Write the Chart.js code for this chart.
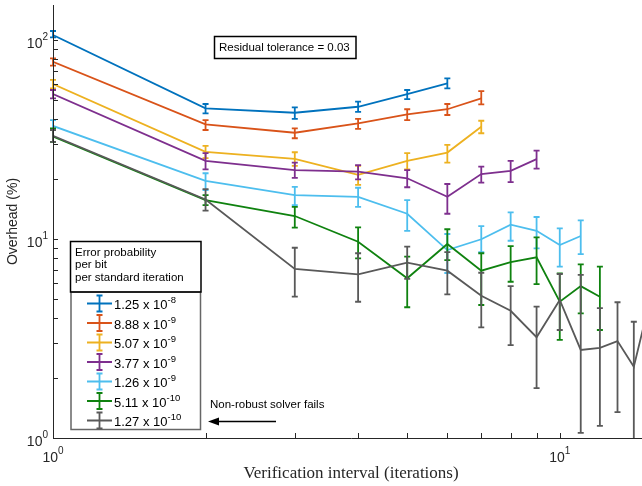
<!DOCTYPE html>
<html>
<head>
<meta charset="utf-8">
<script src="https://cdn.jsdelivr.net/npm/chart.js@4.4.1/dist/chart.umd.min.js"></script>
<style>
  html, body { margin: 0; padding: 0; background: #fff; overflow: hidden; }
  #wrap { width: 650px; height: 486px; }
</style>
</head>
<body>
<div id="wrap"><canvas id="chart" width="650" height="486"></canvas></div>
<script>
// Verification interval (iterations)
const intervals = [1, 2, 3, 4, 5, 6, 7, 8, 9, 10, 11, 12, 13, 14, 15];

// Legend: error probability per bit per standard iteration
const probMantissa = ["1.25", "8.88", "5.07", "3.77", "1.26", "5.11", "1.27"];
const probExponent = ["-8", "-9", "-9", "-9", "-9", "-10", "-10"];
const seriesColors = ["#0072BD", "#D95319", "#EDB120", "#7E2F8E", "#4DBEEE", "#0F820F", "#595959"];

// Overhead (%) and the low / high ends of each error bar
const mean_125e8 = [106, 45.4, 43.1, 46.2, 53.5, 60.6];
const low_125e8  = [103.2, 42.8, 40.2, 43.5, 50.5, 57.2];
const high_125e8 = [111.0, 47.7, 45.9, 49.0, 56.1, 64.2];

const mean_888e9 = [77.8, 37.7, 34.2, 38.1, 42.3, 44.9, 50.9];
const low_888e9  = [74.3, 35.3, 32.1, 35.8, 39.6, 42.0, 47.5];
const high_888e9 = [80.9, 39.6, 36.0, 40.2, 44.9, 47.7, 55.4];

const mean_507e9 = [60.1, 27.4, 25.3, 21.0, 24.7, 27.2, 36.7];
const low_507e9  = [57.2, 25.5, 23.3, 18.7, 22.4, 24.2, 34.0];
const high_507e9 = [63.0, 29.4, 27.3, 23.3, 27.0, 29.7, 39.3];

const mean_377e9 = [53.5, 24.7, 22.2, 21.8, 20.2, 16.3, 21.2, 22.0, 25.2];
const low_377e9  = [50.9, 22.4, 20.3, 19.95, 18.2, 13.4, 19.2, 19.3, 22.6];
const high_377e9 = [56.1, 27.0, 24.2, 23.5, 22.2, 18.9, 23.1, 24.7, 27.8];

const mean_126e9 = [37.0, 19.6, 16.6, 16.3, 13.4, 8.8, 9.97, 11.8, 11.0, 9.33, 10.35];
const low_126e9  = [35.3, 17.6, 14.8, 14.5, 11.0, 6.75, 8.6, 9.8, 8.98, 7.26, 8.4];
const high_126e9 = [39.6, 21.4, 18.3, 18.1, 15.7, 10.6, 11.6, 13.6, 12.9, 11.3, 12.4];

const mean_511e10 = [32.7, 15.7, 13.05, 9.69, 6.35, 9.44, 6.93, 7.66, 8.09, 4.84, 5.8, 5.13];
const low_511e10  = [30.8, 14.8, 11.4, 8.0, 4.54, 7.84, 4.66, 6.1, 5.94, 3.11, 4.23, 3.49];
const high_511e10 = [36.0, 16.6, 14.5, 11.45, 8.15, 11.2, 8.48, 9.22, 10.2, 6.72, 7.46, 7.26];

const mean_127e10 = [33.0, 15.8, 7.07, 6.65, 7.6, 6.93, 5.19, 4.36, 3.21, 4.94, 2.77, 2.84, 3.07, 2.28, 4.7];
const low_127e10  = [30.8, 13.9, 5.13, 4.84, 6.3, 5.27, 3.6, 2.93, 1.78, 3.49, 1.06, 1.15, 1.35, 0.9, 3.5];
const high_127e10 = [35.3, 17.8, 9.04, 8.48, 9.15, 8.6, 6.77, 5.8, 4.57, 6.67, 6.6, 4.49, 4.81, 3.84, 6.0];

// axis tick labels (powers of ten)
const xTickValues = [1, 10];
const yTickValues = [1, 10, 100];

const series = [
    [mean_125e8, low_125e8, high_125e8],
    [mean_888e9, low_888e9, high_888e9],
    [mean_507e9, low_507e9, high_507e9],
    [mean_377e9, low_377e9, high_377e9],
    [mean_126e9, low_126e9, high_126e9],
    [mean_511e10, low_511e10, high_511e10],
    [mean_127e10, low_127e10, high_127e10]
];

const SANS = '"Liberation Sans", Arial, sans-serif';
const AXIS_COLOR = "#262626";

const datasets = series.map((s, i) => ({
    label: probMantissa[i] + " x 10^" + probExponent[i],
    data: s[0].map((v, j) => ({ x: intervals[j], y: v })),
    errLow: s[1],
    errHigh: s[2],
    borderColor: seriesColors[i],
    backgroundColor: seriesColors[i],
    borderWidth: 1.8,
    pointRadius: 0,
    tension: 0,
    order: series.length - 1 - i
}));

// error bars, drawn right after each line so the layering follows the lines
const errorBars = {
    id: "errorBars",
    afterDatasetDraw(chart, args) {
        const ds = chart.data.datasets[args.index];
        const y = chart.scales.y;
        const ctx = chart.ctx;
        const a = chart.chartArea;
        ctx.save();
        ctx.beginPath();
        ctx.rect(a.left - 10, a.top, a.right - a.left + 20, a.bottom - a.top);
        ctx.clip();
        ctx.strokeStyle = ds.borderColor;
        ctx.lineWidth = ds.borderWidth;
        args.meta.data.forEach((pt, j) => {
            const top = y.getPixelForValue(ds.errHigh[j]);
            const bot = y.getPixelForValue(ds.errLow[j]);
            ctx.beginPath();
            ctx.moveTo(pt.x, top); ctx.lineTo(pt.x, bot);
            ctx.moveTo(pt.x - 3, top); ctx.lineTo(pt.x + 3, top);
            ctx.moveTo(pt.x - 3, bot); ctx.lineTo(pt.x + 3, bot);
            ctx.stroke();
        });
        ctx.restore();
    }
};

function logTicks(min, max) {
    const out = [];
    for (let d = Math.floor(Math.log10(min)); d <= Math.ceil(Math.log10(max)); d++) {
        for (let m = 1; m <= 9; m++) {
            const v = m * Math.pow(10, d);
            if (v >= min - 1e-9 && v <= max + 1e-9) out.push(v);
        }
    }
    return out;
}

function powerLabel(ctx, v, x, baseY, align) {
    const base = "10";
    const sup = String(Math.round(Math.log10(v)));
    ctx.font = "14px " + SANS;
    const wb = ctx.measureText(base).width;
    ctx.font = "10px " + SANS;
    const ws = ctx.measureText(sup).width;
    const w = wb + ws;
    const left = align === "right" ? x - w : x - w / 2;
    ctx.textAlign = "left";
    ctx.textBaseline = "alphabetic";
    ctx.font = "14px " + SANS;
    ctx.fillText(base, left, baseY);
    ctx.font = "10px " + SANS;
    ctx.fillText(sup, left + wb, baseY - 8);
}

// MATLAB style axes, inward ticks, legend and annotations
const decorations = {
    id: "decorations",
    afterDraw(chart) {
        const ctx = chart.ctx;
        const a = chart.chartArea;
        const xs = chart.scales.x;
        const ys = chart.scales.y;
        ctx.save();
        ctx.strokeStyle = AXIS_COLOR;
        ctx.fillStyle = AXIS_COLOR;
        ctx.lineWidth = 1;

        // axis lines
        ctx.beginPath();
        ctx.moveTo(a.left + 0.5, a.top);
        ctx.lineTo(a.left + 0.5, a.bottom + 0.5);
        ctx.lineTo(a.right, a.bottom + 0.5);
        ctx.stroke();

        // ticks
        ctx.beginPath();
        logTicks(xs.min, xs.max).forEach(v => {
            const px = Math.round(xs.getPixelForValue(v)) + 0.5;
            ctx.moveTo(px, a.bottom);
            ctx.lineTo(px, a.bottom - 5);
        });
        logTicks(ys.min, ys.max).forEach(v => {
            const py = Math.round(ys.getPixelForValue(v)) + 0.5;
            ctx.moveTo(a.left, py);
            ctx.lineTo(a.left + 5, py);
        });
        ctx.stroke();

        // tick labels
        xTickValues.forEach(v => powerLabel(ctx, v, xs.getPixelForValue(v), a.bottom + 23.5, "center"));
        yTickValues.forEach(v => powerLabel(ctx, v, a.left - 5, ys.getPixelForValue(v) + 8, "right"));

        // residual tolerance box
        ctx.fillStyle = "#000";
        ctx.strokeStyle = "#000";
        ctx.lineWidth = 1.5;
        ctx.strokeRect(214.5, 36.5, 141.5, 22);
        ctx.font = "11.5px " + SANS;
        ctx.textAlign = "left";
        ctx.textBaseline = "middle";
        ctx.fillText("Residual tolerance = 0.03", 219, 48);

        // non-robust solver annotation
        ctx.fillText("Non-robust solver fails", 210, 405);
        ctx.beginPath();
        ctx.moveTo(276, 421.5);
        ctx.lineTo(216, 421.5);
        ctx.stroke();
        ctx.beginPath();
        ctx.moveTo(208, 421.5);
        ctx.lineTo(219, 417.5);
        ctx.lineTo(219, 425.5);
        ctx.closePath();
        ctx.fill();

        // legend title box
        ctx.fillStyle = "#fff";
        ctx.fillRect(71, 292, 130, 137);
        ctx.fillRect(71, 242, 130, 50);
        ctx.strokeStyle = "#666";
        ctx.lineWidth = 1.5;
        ctx.strokeRect(71, 292, 129.5, 137.5);
        ctx.strokeStyle = "#000";
        ctx.strokeRect(70.5, 241.5, 130.5, 50.5);
        ctx.fillStyle = "#000";
        ctx.font = "11.5px " + SANS;
        ctx.textBaseline = "middle";
        ["Error probability", "per bit", "per standard iteration"].forEach((t, k) => {
            ctx.fillText(t, 75, 252.5 + k * 12.8);
        });

        // legend rows
        chart.data.datasets.forEach((ds, i) => {
            const ry = 303.5 + i * 19.5;
            ctx.strokeStyle = ds.borderColor;
            ctx.lineWidth = 1.8;
            ctx.beginPath();
            ctx.moveTo(87, ry); ctx.lineTo(112, ry);
            ctx.moveTo(99.5, ry - 8); ctx.lineTo(99.5, ry + 8);
            ctx.moveTo(96.5, ry - 8); ctx.lineTo(102.5, ry - 8);
            ctx.moveTo(96.5, ry + 8); ctx.lineTo(102.5, ry + 8);
            ctx.stroke();
            ctx.fillStyle = "#000";
            ctx.textBaseline = "alphabetic";
            ctx.font = "13px " + SANS;
            const base = probMantissa[i] + " x 10";
            ctx.fillText(base, 114, ry + 5.5);
            const w = ctx.measureText(base).width;
            ctx.font = "9.5px " + SANS;
            ctx.fillText(probExponent[i], 114 + w, ry - 0.5);
        });

        ctx.restore();
    }
};

new Chart(document.getElementById("chart"), {
    type: "line",
    data: { datasets },
    options: {
        responsive: false,
        animation: false,
        devicePixelRatio: 1,
        layout: { padding: { top: 5, right: 1, left: 0, bottom: 0 } },
        plugins: {
            legend: { display: false },
            tooltip: { enabled: false }
        },
        scales: {
            x: {
                type: "logarithmic",
                min: 1,
                max: 15,
                grid: { display: false },
                border: { display: false },
                ticks: { display: false },
                title: {
                    display: true,
                    text: "Verification interval (iterations)",
                    color: AXIS_COLOR,
                    font: { family: '"Liberation Serif", "Times New Roman", serif', size: 17 },
                    padding: { top: 0, bottom: 2 }
                },
                afterFit(s) { s.height = 48; }
            },
            y: {
                type: "logarithmic",
                min: 1,
                max: 150,
                grid: { display: false },
                border: { display: false },
                ticks: { display: false },
                title: {
                    display: true,
                    text: "Overhead (%)",
                    color: AXIS_COLOR,
                    font: { family: SANS, size: 14 },
                    padding: { top: 5, bottom: 0 }
                },
                afterFit(s) { s.width = 53; }
            }
        }
    },
    plugins: [errorBars, decorations]
});
</script>
</body>
</html>
